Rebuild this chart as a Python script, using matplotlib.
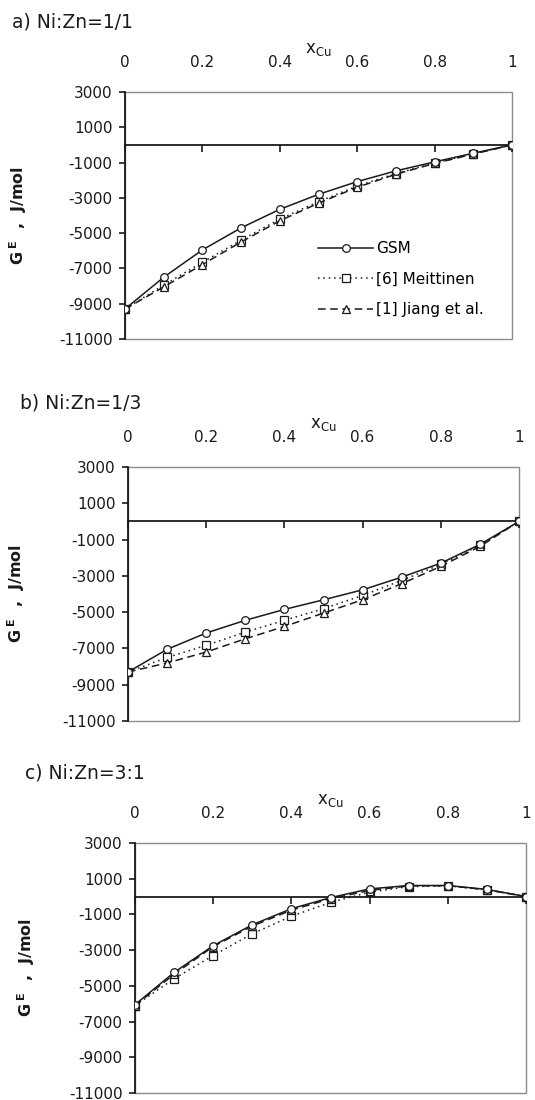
import matplotlib
matplotlib.use('Agg')
import matplotlib.pyplot as plt

plt.rcParams['font.family'] = ['DejaVu Sans']
plt.rcParams['mathtext.fontset'] = 'dejavusans'

# composition x_Cu
x_cu = [0.0, 0.1, 0.2, 0.3, 0.4, 0.5, 0.6, 0.7, 0.8, 0.9, 1.0]

# a) Ni:Zn = 1/1
a_gsm = [-9300, -7500, -5950, -4700, -3650, -2800, -2080, -1470, -960, -470, 0]
a_mei = [-9300, -7950, -6650, -5400, -4200, -3220, -2330, -1620, -1030, -500, 0]
a_jia = [-9300, -8050, -6780, -5500, -4300, -3300, -2400, -1660, -1050, -520, 0]

# b) Ni:Zn = 1/3
b_gsm = [-8300, -7050, -6150, -5450, -4850, -4320, -3770, -3070, -2300, -1270, 0]
b_mei = [-8300, -7500, -6830, -6100, -5450, -4810, -4080, -3250, -2370, -1320, 0]
b_jia = [-8300, -7800, -7200, -6470, -5790, -5050, -4320, -3430, -2480, -1380, 0]

# c) Ni:Zn = 3:1
c_gsm = [-6050, -4250, -2750, -1580, -680, -60, 430, 620, 620, 400, 0]
c_mei = [-6100, -4600, -3300, -2080, -1100, -330, 250, 560, 600, 380, 0]
c_jia = [-6100, -4350, -2800, -1650, -760, -120, 340, 600, 610, 380, 0]

titles = ['a) Ni:Zn=1/1', 'b) Ni:Zn=1/3', 'c) Ni:Zn=3:1']
series_names = ['GSM', '[6] Meittinen', '[1] Jiang et al.']
x_ticks = [0, 0.2, 0.4, 0.6, 0.8, 1]
x_ticklabels = ['0', '0.2', '0.4', '0.6', '0.8', '1']
y_ticks = [3000, 1000, -1000, -3000, -5000, -7000, -9000, -11000]

W, H = 535, 1100
fig = plt.figure(figsize=(W / 100, H / 100), dpi=100)

# axes boxes in pixels: left, right, top, bottom
boxes = [(125, 512, 92, 339), (128, 519, 467, 721), (135, 526, 843, 1093)]
title_pos = [(12, 22), (20, 403), (25, 773)]
ylabel_x = [29, 27, 37]
panels = [(a_gsm, a_mei, a_jia), (b_gsm, b_mei, b_jia), (c_gsm, c_mei, c_jia)]

col = '#1a1a1a'
for i, (l, r, t, b) in enumerate(boxes):
    ax = fig.add_axes([l / W, 1 - b / H, (r - l) / W, (b - t) / H])
    gsm, mei, jia = panels[i]
    ax.plot(x_cu, gsm, '-', color=col, lw=1.1, marker='o', ms=5.5, mfc='white', mec=col, mew=0.9, label=series_names[0], zorder=4)
    ax.plot(x_cu, mei, color=col, lw=1.1, ls=(0, (1, 2.5)), marker='s', ms=5.5, mfc='white', mec=col, mew=0.9, label=series_names[1], zorder=3)
    ax.plot(x_cu, jia, color=col, lw=1.1, ls=(0, (5, 3)), marker='^', ms=6, mfc='white', mec=col, mew=0.9, label=series_names[2], zorder=3)

    ax.set_xlim(0, 1)
    ax.set_ylim(-11000, 3000)
    ax.set_yticks(y_ticks)
    ax.set_yticklabels([str(v) for v in y_ticks])
    ax.set_xticks(x_ticks)
    ax.set_xticklabels(x_ticklabels)

    # plot area frame is grey, axes are black
    ax.patch.set_edgecolor('#8c8c8c')
    ax.patch.set_linewidth(1.0)
    ax.spines['top'].set_visible(False)
    ax.spines['right'].set_visible(False)
    ax.spines['left'].set_color(col)
    ax.spines['left'].set_linewidth(1.3)
    ax.spines['bottom'].set_position(('data', 0))  # x axis crosses at 0
    ax.spines['bottom'].set_color(col)
    ax.spines['bottom'].set_linewidth(1.3)

    ax.tick_params(axis='x', bottom=True, top=False, labelbottom=False, labeltop=True,
                   direction='out', length=5, width=1.2, pad=11, labelsize=11, colors=col)
    ax.tick_params(axis='y', direction='out', length=4, width=1.2, pad=5, labelsize=11, colors=col)
    ax.xaxis.set_label_position('top')
    ax.set_xlabel(r'x$_{\mathregular{Cu}}$', fontsize=12, labelpad=1, color=col)
    ax.set_ylabel(r'G$^{\ \mathbf{E}}$  ,  J/mol', fontsize=11.5, fontweight='bold', color=col)
    ax.yaxis.set_label_coords((ylabel_x[i] - l) / (r - l), 0.5)

    fig.text(title_pos[i][0] / W, 1 - title_pos[i][1] / H, titles[i], fontsize=13.5, va='center', ha='left', color=col)

    if i == 0:
        ax.legend(loc='upper left', bbox_to_anchor=(0.499, 0.395), frameon=False, fontsize=11,
                  handlelength=3.6, handletextpad=0.2, labelspacing=1.0, borderpad=0, borderaxespad=0)

fig.savefig('out.png', dpi=100, facecolor='white')
